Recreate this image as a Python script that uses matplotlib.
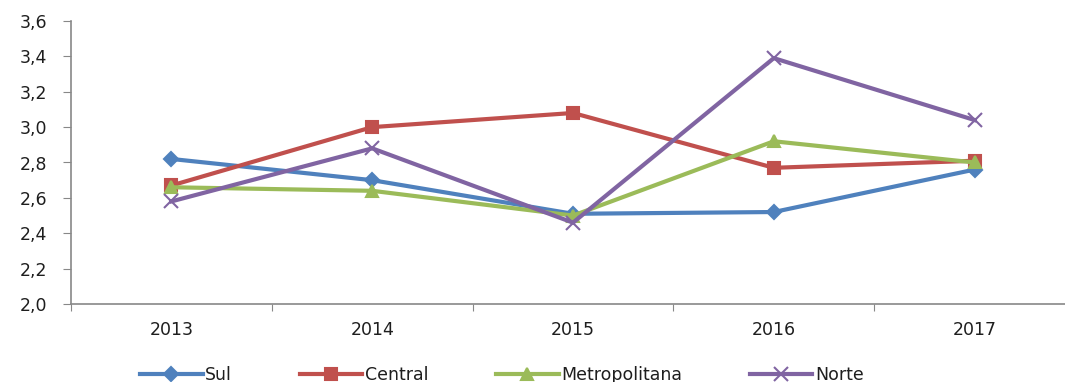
import matplotlib.pyplot as plt
from matplotlib.ticker import FixedLocator, FuncFormatter

# values
years = ['2013', '2014', '2015', '2016', '2017']
sul = [2.82, 2.70, 2.51, 2.52, 2.76]
central = [2.67, 3.00, 3.08, 2.77, 2.81]
metropolitana = [2.66, 2.64, 2.50, 2.92, 2.80]
norte = [2.58, 2.88, 2.46, 3.39, 3.04]

series = [
    ('Sul', sul, '#4F81BD', 'D', 7),
    ('Central', central, '#C0504D', 's', 9),
    ('Metropolitana', metropolitana, '#9BBB59', '^', 9),
    ('Norte', norte, '#8064A2', 'x', 10),
]

plt.rcParams['font.family'] = ['DejaVu Sans']
fs = 12.5
txt = '#1e1e1e'

fig = plt.figure(figsize=(10.65, 3.82), dpi=100)
# the chart is cut off on the right in the reference, so the axes run past the edge
ax = fig.add_axes([71 / 1065, 1 - 304 / 382, 1004 / 1065, 283 / 382])

x = range(len(years))
for name, vals, color, marker, size in series:
    ax.plot(x, vals, color=color, lw=3.0, marker=marker, markersize=size,
            markeredgewidth=1.5, label=name)

ax.set_xlim(-0.5, len(years) - 0.5)
ax.set_ylim(2.0, 3.6)
ax.set_yticks([2.0 + 0.2 * i for i in range(9)])
ax.yaxis.set_major_formatter(FuncFormatter(lambda v, p: f'{v:.1f}'.replace('.', ',')))

ax.xaxis.set_major_locator(FixedLocator([i - 0.5 for i in range(len(years) + 1)]))
ax.xaxis.set_major_formatter(FuncFormatter(lambda v, p: ''))
ax.xaxis.set_minor_locator(FixedLocator(list(x)))
ax.set_xticklabels(years, minor=True)
ax.tick_params(axis='x', which='minor', length=0, pad=12, labelsize=fs, labelcolor=txt)
ax.tick_params(axis='x', which='major', length=5, color='#888888')
ax.tick_params(axis='y', which='major', length=6, pad=11, color='#888888',
               labelsize=fs, labelcolor=txt)

for s in ['top', 'right']:
    ax.spines[s].set_visible(False)
for s in ['left', 'bottom']:
    ax.spines[s].set_color('#888888')
    ax.spines[s].set_linewidth(1.2)

leg = fig.legend(loc='center', bbox_to_anchor=(502 / 1065, 1 - 375 / 382), ncol=4,
                 frameon=False, fontsize=fs, handlelength=3.6, columnspacing=3.9,
                 handletextpad=0.15, borderaxespad=0)
for t in leg.get_texts():
    t.set_color(txt)

fig.savefig('out.png', dpi=100)
